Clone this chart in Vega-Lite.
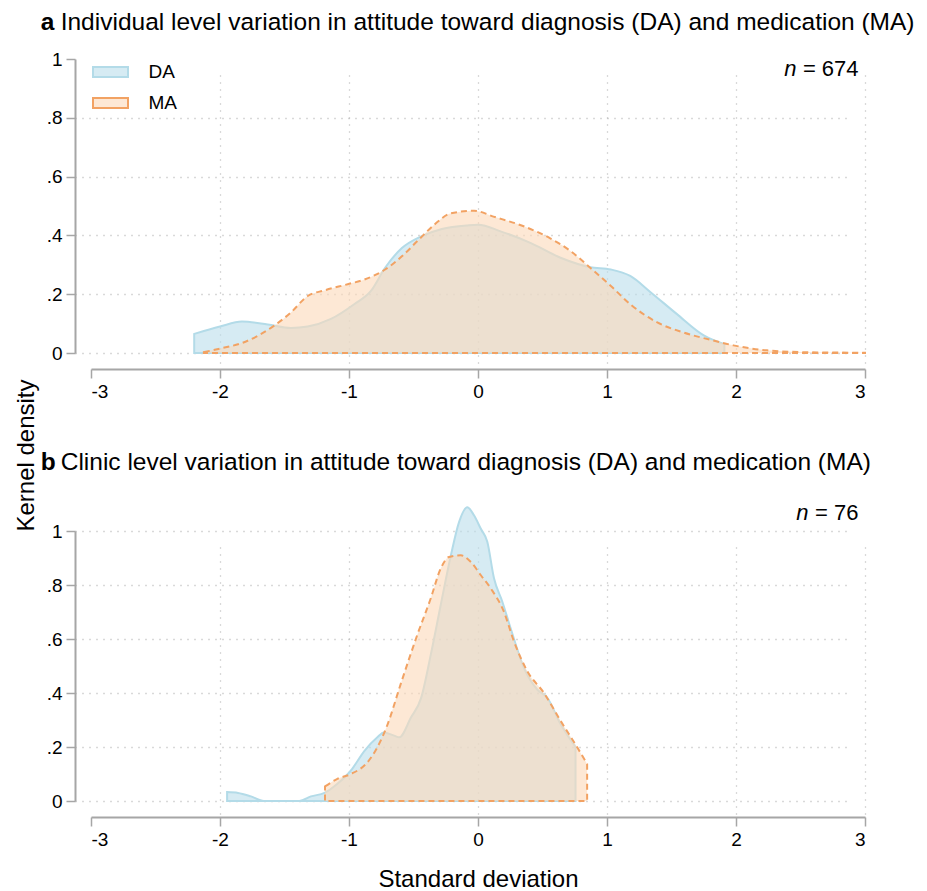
{
  "$schema": "https://vega.github.io/schema/vega-lite/v6.json",
  "padding": {"left": 14, "top": 10, "right": 5, "bottom": 0},
  "background": "white",
  "bounds": "flush",
  "spacing": 178,
  "config": {
    "view": {"stroke": null},
    "font": "Liberation Sans",
    "axis": {
      "labelFont": "Liberation Sans", "titleFont": "Liberation Sans",
      "labelFontSize": 19, "labelColor": "#000", "titleFontSize": 24, "titleColor": "#000", "titleFontWeight": "normal",
      "domainColor": "#a6a6a6", "domainWidth": 2, "tickColor": "#a6a6a6", "tickWidth": 1.5, "tickSize": 9,
      "gridColor": "#b4b4b4", "gridDash": [1, 6], "gridWidth": 1.3, "offset": 16, "labelPadding": 4
    },
    "legend": {"labelFont": "Liberation Sans", "labelFontSize": 19, "labelColor": "#000"}
  },
  "datasets": {
    "notes": [
      {"panel": "a", "letter": "a", "heading": "Individual level variation in attitude toward diagnosis (DA) and medication (MA)", "nval": "= 674"},
      {"panel": "b", "letter": "b", "heading": "Clinic level variation in attitude toward diagnosis (DA) and medication (MA)", "nval": "= 76"}
    ],
    "panelA": [
      {"group": "DA", "x": -2.2, "y": 0.065}, {"group": "DA", "x": -2.0, "y": 0.09}, {"group": "DA", "x": -1.83, "y": 0.107},
      {"group": "DA", "x": -1.63, "y": 0.097}, {"group": "DA", "x": -1.45, "y": 0.085}, {"group": "DA", "x": -1.32, "y": 0.09},
      {"group": "DA", "x": -1.14, "y": 0.116}, {"group": "DA", "x": -0.96, "y": 0.166}, {"group": "DA", "x": -0.83, "y": 0.211},
      {"group": "DA", "x": -0.72, "y": 0.29}, {"group": "DA", "x": -0.59, "y": 0.357}, {"group": "DA", "x": -0.44, "y": 0.397},
      {"group": "DA", "x": -0.28, "y": 0.422}, {"group": "DA", "x": -0.08, "y": 0.434}, {"group": "DA", "x": 0.0, "y": 0.436},
      {"group": "DA", "x": 0.18, "y": 0.413}, {"group": "DA", "x": 0.41, "y": 0.374}, {"group": "DA", "x": 0.64, "y": 0.324},
      {"group": "DA", "x": 0.87, "y": 0.292}, {"group": "DA", "x": 1.03, "y": 0.284}, {"group": "DA", "x": 1.18, "y": 0.262},
      {"group": "DA", "x": 1.34, "y": 0.206}, {"group": "DA", "x": 1.54, "y": 0.133}, {"group": "DA", "x": 1.75, "y": 0.06},
      {"group": "DA", "x": 1.91, "y": 0.03},
      {"group": "MA", "x": -2.125, "y": 0.003}, {"group": "MA", "x": -2.0, "y": 0.015}, {"group": "MA", "x": -1.83, "y": 0.034},
      {"group": "MA", "x": -1.7, "y": 0.06}, {"group": "MA", "x": -1.58, "y": 0.093}, {"group": "MA", "x": -1.45, "y": 0.138},
      {"group": "MA", "x": -1.32, "y": 0.194}, {"group": "MA", "x": -1.19, "y": 0.213}, {"group": "MA", "x": -1.01, "y": 0.234},
      {"group": "MA", "x": -0.88, "y": 0.25}, {"group": "MA", "x": -0.72, "y": 0.284}, {"group": "MA", "x": -0.59, "y": 0.329},
      {"group": "MA", "x": -0.46, "y": 0.385}, {"group": "MA", "x": -0.34, "y": 0.436}, {"group": "MA", "x": -0.21, "y": 0.475},
      {"group": "MA", "x": -0.03, "y": 0.484}, {"group": "MA", "x": 0.12, "y": 0.464}, {"group": "MA", "x": 0.36, "y": 0.43},
      {"group": "MA", "x": 0.56, "y": 0.39}, {"group": "MA", "x": 0.72, "y": 0.346}, {"group": "MA", "x": 0.87, "y": 0.29},
      {"group": "MA", "x": 1.03, "y": 0.228}, {"group": "MA", "x": 1.18, "y": 0.166}, {"group": "MA", "x": 1.39, "y": 0.104},
      {"group": "MA", "x": 1.59, "y": 0.07}, {"group": "MA", "x": 1.8, "y": 0.045}, {"group": "MA", "x": 1.98, "y": 0.026},
      {"group": "MA", "x": 2.24, "y": 0.009}, {"group": "MA", "x": 2.63, "y": 0.002}, {"group": "MA", "x": 3.0, "y": 0.001}
    ],
    "panelB": [
      {"group": "DA", "x": -1.945, "y": 0.033}, {"group": "DA", "x": -1.86, "y": 0.03}, {"group": "DA", "x": -1.76, "y": 0.017},
      {"group": "DA", "x": -1.66, "y": 0.0}, {"group": "DA", "x": -1.385, "y": 0.0}, {"group": "DA", "x": -1.295, "y": 0.017},
      {"group": "DA", "x": -1.19, "y": 0.03}, {"group": "DA", "x": -1.09, "y": 0.064}, {"group": "DA", "x": -0.985, "y": 0.113},
      {"group": "DA", "x": -0.88, "y": 0.186}, {"group": "DA", "x": -0.78, "y": 0.236}, {"group": "DA", "x": -0.73, "y": 0.254},
      {"group": "DA", "x": -0.65, "y": 0.242}, {"group": "DA", "x": -0.61, "y": 0.236}, {"group": "DA", "x": -0.52, "y": 0.309},
      {"group": "DA", "x": -0.44, "y": 0.383}, {"group": "DA", "x": -0.366, "y": 0.542}, {"group": "DA", "x": -0.289, "y": 0.726},
      {"group": "DA", "x": -0.21, "y": 0.91}, {"group": "DA", "x": -0.147, "y": 1.033}, {"group": "DA", "x": -0.083, "y": 1.088},
      {"group": "DA", "x": -0.031, "y": 1.058}, {"group": "DA", "x": 0.021, "y": 1.009}, {"group": "DA", "x": 0.072, "y": 0.96},
      {"group": "DA", "x": 0.124, "y": 0.825}, {"group": "DA", "x": 0.188, "y": 0.739}, {"group": "DA", "x": 0.253, "y": 0.64},
      {"group": "DA", "x": 0.356, "y": 0.493}, {"group": "DA", "x": 0.459, "y": 0.413}, {"group": "DA", "x": 0.536, "y": 0.383},
      {"group": "DA", "x": 0.64, "y": 0.285}, {"group": "DA", "x": 0.756, "y": 0.2},
      {"group": "MA", "x": -1.186, "y": 0.054}, {"group": "MA", "x": -1.09, "y": 0.082}, {"group": "MA", "x": -0.985, "y": 0.1},
      {"group": "MA", "x": -0.856, "y": 0.144}, {"group": "MA", "x": -0.78, "y": 0.199}, {"group": "MA", "x": -0.7, "y": 0.285},
      {"group": "MA", "x": -0.6, "y": 0.432}, {"group": "MA", "x": -0.47, "y": 0.616}, {"group": "MA", "x": -0.366, "y": 0.751},
      {"group": "MA", "x": -0.289, "y": 0.861}, {"group": "MA", "x": -0.224, "y": 0.904}, {"group": "MA", "x": -0.134, "y": 0.91},
      {"group": "MA", "x": -0.057, "y": 0.886}, {"group": "MA", "x": 0.021, "y": 0.837}, {"group": "MA", "x": 0.098, "y": 0.788},
      {"group": "MA", "x": 0.2, "y": 0.702}, {"group": "MA", "x": 0.279, "y": 0.591}, {"group": "MA", "x": 0.382, "y": 0.481},
      {"group": "MA", "x": 0.51, "y": 0.401}, {"group": "MA", "x": 0.64, "y": 0.297}, {"group": "MA", "x": 0.769, "y": 0.199},
      {"group": "MA", "x": 0.846, "y": 0.137}
    ]
  },
  "vconcat": [
    {
      "width": 774, "height": 294,
      "layer": [
        {
          "data": {"name": "panelA"},
          "transform": [{"filter": "datum.group == 'DA'"}],
          "mark": {"type": "area", "interpolate": "monotone", "strokeWidth": 2},
          "encoding": {
            "x": {"field": "x", "type": "quantitative", "scale": {"domain": [-3, 3]},
              "axis": {"values": [-3, -2, -1, 0, 1, 2, 3], "labelExpr": "'' + datum.value", "title": null,
                "gridOpacity": {"condition": {"test": "datum.value == -3", "value": 0}, "value": 1}}},
            "y": {"field": "y", "type": "quantitative", "stack": null, "scale": {"domain": [0, 1]},
              "axis": {"values": [0, 0.2, 0.4, 0.6, 0.8, 1], "labelExpr": "datum.value == 0 ? '0' : datum.value == 1 ? '1' : '.' + round(datum.value * 10)",
                "title": "Kernel density", "titleX": -49, "titleY": 396, "titleAngle": -90, "titleAlign": "center", "titleBaseline": "middle",
                "gridOpacity": {"condition": {"test": "datum.value == 1", "value": 0}, "value": 1}}},
            "fill": {"datum": "DA", "type": "nominal",
              "scale": {"domain": ["DA", "MA"], "range": ["rgba(187,222,235,0.6)", "rgba(252,217,185,0.6)"]},
              "legend": {"title": null, "orient": "none", "legendX": 4.5, "legendY": -2,
                "symbolType": "M-1.25,-0.35L1.25,-0.35L1.25,0.35L-1.25,0.35Z", "symbolSize": 784, "symbolStrokeWidth": 2,
                "labelOffset": 23, "rowPadding": 6, "labelFontSize": 19,
                "encode": {"symbols": {"update": {
                  "strokeDash": {"signal": "(datum.value === 'MA' || datum.label === 'MA') ? [5, 3] : [1, 0]"},
                  "strokeWidth": {"value": 2}}}}}},
            "stroke": {"datum": "DA", "type": "nominal",
              "scale": {"domain": ["DA", "MA"], "range": ["#b3dbe8", "#f2a263"]}, "legend": null}
          }
        },
        {
          "data": {"name": "panelA"},
          "transform": [{"filter": "datum.group == 'MA'"}],
          "mark": {"type": "area", "interpolate": "monotone", "strokeWidth": 2, "strokeDash": [6, 4]},
          "encoding": {
            "x": {"field": "x", "type": "quantitative"},
            "y": {"field": "y", "type": "quantitative", "stack": null},
            "fill": {"datum": "MA", "type": "nominal"},
            "stroke": {"datum": "MA", "type": "nominal"}
          }
        },
        {
          "data": {"name": "notes"},
          "transform": [{"filter": "datum.panel == 'a'"}],
          "mark": {"type": "text", "align": "left", "baseline": "middle", "fontSize": 24.5, "fontWeight": "bold", "font": "Liberation Sans"},
          "encoding": {"x": {"datum": -3.39}, "y": {"datum": 1.122}, "text": {"field": "letter"}}
        },
        {
          "data": {"name": "notes"},
          "transform": [{"filter": "datum.panel == 'a'"}],
          "mark": {"type": "text", "align": "left", "baseline": "middle", "fontSize": 24.5, "dx": 20, "font": "Liberation Sans"},
          "encoding": {"x": {"datum": -3.39}, "y": {"datum": 1.122}, "text": {"field": "heading"}}
        },
        {
          "data": {"name": "notes"},
          "transform": [{"filter": "datum.panel == 'a'"}],
          "mark": {"type": "text", "align": "right", "baseline": "middle", "fontSize": 22, "font": "Liberation Sans"},
          "encoding": {"x": {"datum": 2.95}, "y": {"datum": 0.966}, "text": {"field": "nval"}}
        },
        {
          "data": {"name": "notes"},
          "transform": [{"filter": "datum.panel == 'a'"}],
          "mark": {"type": "text", "align": "right", "baseline": "middle", "fontSize": 22, "fontStyle": "italic", "dx": -62, "font": "Liberation Sans"},
          "encoding": {"x": {"datum": 2.95}, "y": {"datum": 0.966}, "text": {"value": "n"}}
        }
      ]
    },
    {
      "width": 774, "height": 270,
      "layer": [
        {
          "data": {"name": "panelB"},
          "transform": [{"filter": "datum.group == 'DA'"}],
          "mark": {"type": "area", "interpolate": "monotone", "strokeWidth": 2, "stroke": "#b3dbe8", "fill": "rgba(187,222,235,0.6)"},
          "encoding": {
            "x": {"field": "x", "type": "quantitative", "scale": {"domain": [-3, 3]},
              "axis": {"values": [-3, -2, -1, 0, 1, 2, 3], "labelExpr": "'' + datum.value", "title": "Standard deviation", "titlePadding": 18,
                "gridOpacity": {"condition": {"test": "datum.value == -3", "value": 0}, "value": 1}}},
            "y": {"field": "y", "type": "quantitative", "stack": null, "scale": {"domain": [0, 1]},
              "axis": {"values": [0, 0.2, 0.4, 0.6, 0.8, 1], "labelExpr": "datum.value == 0 ? '0' : datum.value == 1 ? '1' : '.' + round(datum.value * 10)", "title": null}}
          }
        },
        {
          "data": {"name": "panelB"},
          "transform": [{"filter": "datum.group == 'MA'"}],
          "mark": {"type": "area", "interpolate": "monotone", "strokeWidth": 2, "stroke": "#f2a263", "strokeDash": [6, 4], "fill": "rgba(252,217,185,0.6)"},
          "encoding": {
            "x": {"field": "x", "type": "quantitative"},
            "y": {"field": "y", "type": "quantitative", "stack": null}
          }
        },
        {
          "data": {"name": "notes"},
          "transform": [{"filter": "datum.panel == 'b'"}],
          "mark": {"type": "text", "align": "left", "baseline": "middle", "fontSize": 24.5, "fontWeight": "bold", "font": "Liberation Sans"},
          "encoding": {"x": {"datum": -3.39}, "y": {"datum": 1.252}, "text": {"field": "letter"}}
        },
        {
          "data": {"name": "notes"},
          "transform": [{"filter": "datum.panel == 'b'"}],
          "mark": {"type": "text", "align": "left", "baseline": "middle", "fontSize": 24.5, "dx": 20, "font": "Liberation Sans"},
          "encoding": {"x": {"datum": -3.39}, "y": {"datum": 1.252}, "text": {"field": "heading"}}
        },
        {
          "data": {"name": "notes"},
          "transform": [{"filter": "datum.panel == 'b'"}],
          "mark": {"type": "text", "align": "right", "baseline": "middle", "fontSize": 22, "font": "Liberation Sans"},
          "encoding": {"x": {"datum": 2.95}, "y": {"datum": 1.067}, "text": {"field": "nval"}}
        },
        {
          "data": {"name": "notes"},
          "transform": [{"filter": "datum.panel == 'b'"}],
          "mark": {"type": "text", "align": "right", "baseline": "middle", "fontSize": 22, "fontStyle": "italic", "dx": -50, "font": "Liberation Sans"},
          "encoding": {"x": {"datum": 2.95}, "y": {"datum": 1.067}, "text": {"value": "n"}}
        }
      ]
    }
  ]
}
